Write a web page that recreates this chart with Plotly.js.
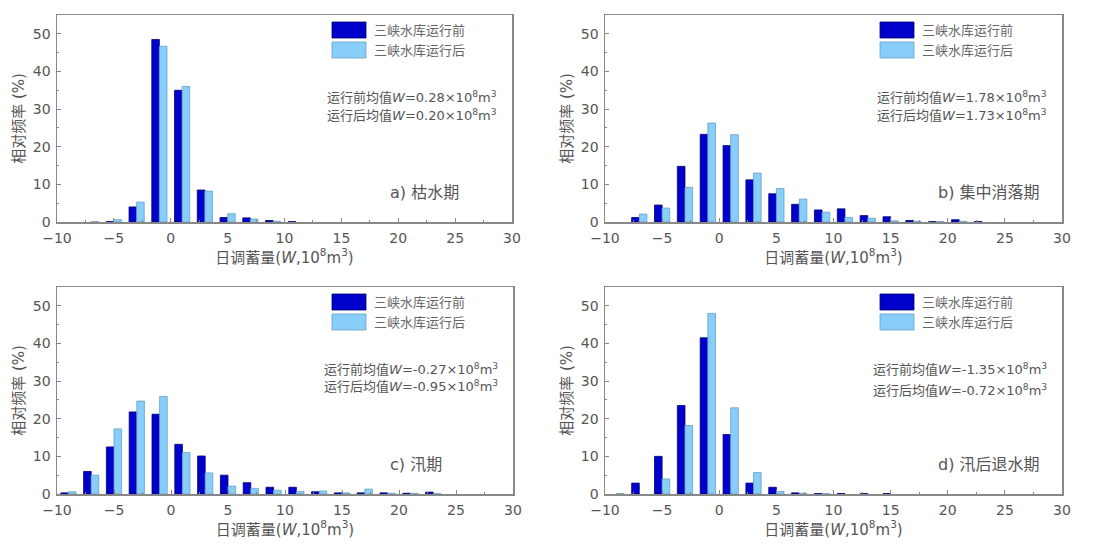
<!DOCTYPE html>
<html><head><meta charset="utf-8">
<script src="https://cdn.plot.ly/plotly-3.0.1.min.js"></script>
<style>html,body{margin:0;padding:0;background:#fff}#chart{width:1102px;height:546px}</style>
</head><body><div id="chart"></div>
<script>
const centers = [-9,-7,-5,-3,-1,1,3,5,7,9,11,13,15,17,19,21,23];
const a_before = [null,null,0.1,4.0,48.5,35.0,8.5,1.2,1.1,0.4,0.1,null,null,null,null,null,null];
const a_after  = [null,0.1,0.6,5.3,46.7,36.0,8.2,2.2,0.8,0.2,null,null,null,null,null,null,null];
const b_before = [null,1.2,4.5,14.8,23.3,20.3,11.2,7.5,4.7,3.2,3.5,1.7,1.4,0.4,0.1,0.6,0.1];
const b_after  = [null,2.1,3.7,9.2,26.3,23.2,13.0,8.9,6.1,2.6,1.2,1.0,0.3,0.2,0.1,0.2,null];
const c_before = [0.3,6.0,12.5,21.8,21.2,13.2,10.1,5.0,3.0,1.8,1.8,0.6,0.3,0.3,0.3,0.2,0.5];
const c_after  = [0.6,5.0,17.3,24.7,25.9,11.0,5.6,2.1,1.5,1.0,0.7,0.8,0.3,1.3,0.2,0.2,0.1];
const d_before = [null,2.9,10.0,23.5,41.5,15.8,2.9,1.8,0.3,0.1,0.1,0.1,0.1,null,null,null,null];
const d_after  = [0.1,null,4.0,18.2,48.0,22.9,5.7,0.7,0.2,0.1,null,null,null,null,null,null,null];

const seriesNames = ['三峡水库运行前','三峡水库运行后'];
const panelLabels = ['a) 枯水期','b) 集中消落期','c) 汛期','d) 汛后退水期'];
const meanBefore = ['0.28','1.78','-0.27','-1.35'];
const meanAfter  = ['0.20','1.73','-0.95','-0.72'];
const xTitle = '日调蓄量(<i>W</i>,10<sup>8</sup>m<sup>3</sup>)';
const yTitle = '相对频率 (%)';

const darkColor = '#0000CD', darkLine = '#000070';
const lightColor = '#87CEFA', lightLine = '#6a9fc0';
const FONT = 'DejaVu Sans, Noto Sans CJK SC, sans-serif';
const textColor = '#555';

const W = 1102, H = 546;
const panels = [
  {before:a_before, after:a_after, x0:57, x1:512, y0:15, y1:222, gap:18},
  {before:b_before, after:b_after, x0:605, x1:1062, y0:15, y1:222, gap:18},
  {before:c_before, after:c_after, x0:57, x1:513, y0:287, y1:494, gap:17},
  {before:d_before, after:d_after, x0:605, x1:1062, y0:287, y1:494, gap:21}
];

const data = [];
const layout = {
  width: W, height: H,
  margin: {l:0, r:0, t:0, b:0},
  paper_bgcolor: '#fff', plot_bgcolor: '#fff',
  showlegend: false,
  barmode: 'group', bargap: 0.333, bargroupgap: 0,
  font: {family: FONT, color: textColor, size: 13},
  shapes: [], annotations: []
};

panels.forEach((p, i) => {
  const n = i + 1;
  const xa = 'x' + (n === 1 ? '' : n), ya = 'y' + (n === 1 ? '' : n);
  data.push({type:'bar', x:centers, y:p.before, name:seriesNames[0], xaxis:xa, yaxis:ya,
    marker:{color:darkColor, line:{color:darkLine, width:0.8}}});
  data.push({type:'bar', x:centers, y:p.after, name:seriesNames[1], xaxis:xa, yaxis:ya,
    marker:{color:lightColor, line:{color:lightLine, width:0.8}}});
  const xk = 'xaxis' + (n === 1 ? '' : n), yk = 'yaxis' + (n === 1 ? '' : n);
  layout[xk] = {
    domain: [p.x0 / W, p.x1 / W], anchor: ya,
    range: [-10, 30], tickmode: 'linear', tick0: -10, dtick: 5,
    ticks: 'inside', ticklen: 4, tickcolor: '#888', tickwidth: 1,
    minor: {dtick: 2.5, ticks: 'inside', ticklen: 2, tickcolor: '#888'},
    showline: true, linecolor: '#888', linewidth: 1.5, mirror: true,
    showgrid: false, zeroline: false, ticklabelstandoff: 3,
    tickfont: {size: 14, color: textColor, family: FONT},
    title: {text: xTitle, font: {size: 15, color: textColor, family: FONT}, standoff: 0}
  };
  layout[yk] = {
    domain: [1 - p.y1 / H, 1 - p.y0 / H], anchor: xa,
    range: [0, 55], tickmode: 'linear', tick0: 0, dtick: 10,
    ticks: 'inside', ticklen: 4, tickcolor: '#888', tickwidth: 1,
    minor: {dtick: 5, ticks: 'inside', ticklen: 2, tickcolor: '#888'},
    showline: true, linecolor: '#888', linewidth: 1.5, mirror: true,
    showgrid: false, zeroline: false, ticklabelstandoff: 2,
    tickfont: {size: 14, color: textColor, family: FONT},
    title: {text: yTitle, font: {size: 15, color: textColor, family: FONT}, standoff: 4}
  };
  // legend swatches and text
  const lx0 = p.x0 + 275, lx1 = p.x0 + 309;
  const sw = [[p.y0 + 7, p.y0 + 23, darkColor, darkLine], [p.y0 + 27, p.y0 + 43, lightColor, lightLine]];
  sw.forEach((s, k) => {
    layout.shapes.push({type:'rect', xref:'paper', yref:'paper',
      x0: lx0 / W, x1: lx1 / W, y0: 1 - s[1] / H, y1: 1 - s[0] / H,
      fillcolor: s[2], line: {color: s[3], width: 0.8}});
    layout.annotations.push({xref:'paper', yref:'paper', x: (lx1 + 6) / W, y: 1 - (s[0] + s[1]) / 2 / H,
      xanchor:'left', yanchor:'middle', showarrow:false, text: seriesNames[k],
      font: {size: 13, color: '#666', family: FONT}});
  });
  const rx = p.x1 - 13;
  layout.annotations.push({xref:'paper', yref:'paper', x: rx / W, y: 1 - (p.y0 + 82) / H,
    xanchor:'right', yanchor:'middle', showarrow:false,
    text: '运行前均值<i>W</i>=' + meanBefore[i] + '×10<sup>8</sup>m<sup>3</sup>',
    font: {size: 13, color: '#555', family: FONT}});
  layout.annotations.push({xref:'paper', yref:'paper', x: rx / W, y: 1 - (p.y0 + 82 + p.gap) / H,
    xanchor:'right', yanchor:'middle', showarrow:false,
    text: '运行后均值<i>W</i>=' + meanAfter[i] + '×10<sup>8</sup>m<sup>3</sup>',
    font: {size: 13, color: '#555', family: FONT}});
  layout.annotations.push({xref:'paper', yref:'paper', x: (p.x0 + 331) / W, y: 1 - (p.y0 + 177) / H,
    xanchor:'left', yanchor:'middle', showarrow:false, text: panelLabels[i],
    font: {size: 16, color: '#555', family: FONT}});
});

Plotly.newPlot('chart', data, layout, {displayModeBar: false, staticPlot: true});
</script></body></html>
